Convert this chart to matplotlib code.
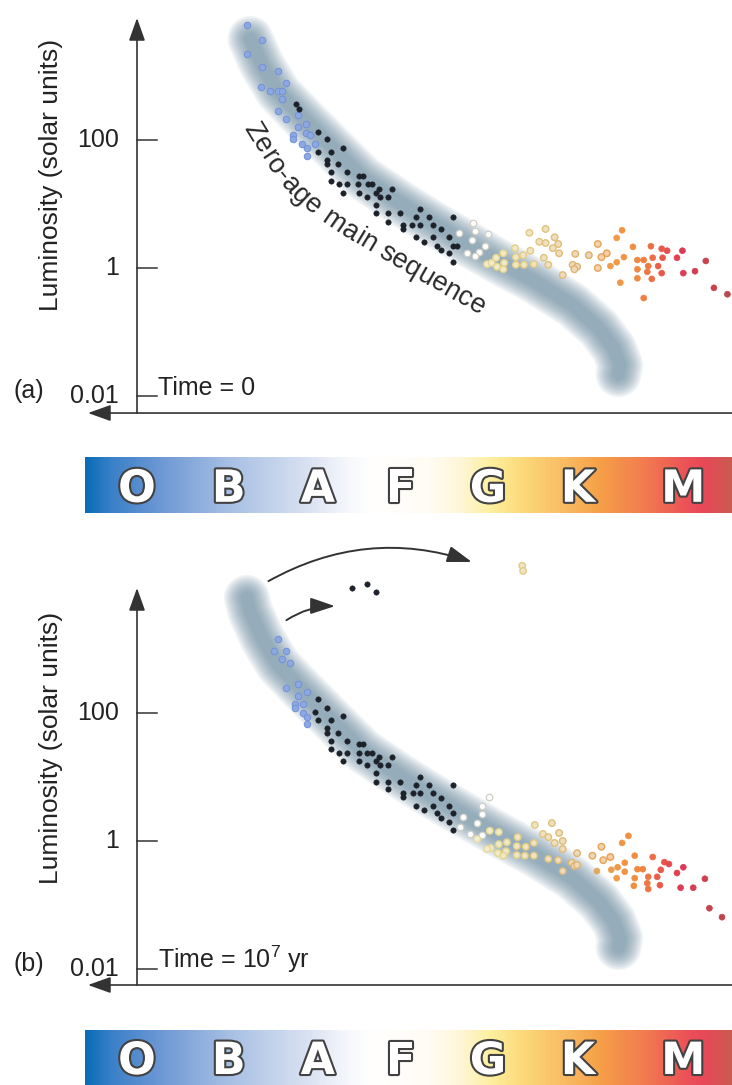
import numpy as np
import matplotlib
matplotlib.use("Agg")
import matplotlib.pyplot as plt
from matplotlib.colors import LinearSegmentedColormap
import matplotlib.patheffects as pe
from matplotlib.font_manager import FontProperties

plt.rcParams['font.family'] = ['Liberation Sans', 'DejaVu Sans']
plt.rcParams['mathtext.default'] = 'regular'

# ---------------------------------------------------------------- data
spectral_classes = ["O", "B", "A", "F", "G", "K", "M"]
class_positions = [0.0, 1.02, 2.01, 2.93, 3.90, 4.90, 6.07]
lum_ticks = [0.01, 1, 100]
lum_tick_labels = ["0.01", "1", "100"]

# zero-age main sequence band (spectral position, log10 L)
zams_s = [1.26, 1.39, 1.57, 1.78, 2.09, 2.51, 2.92, 3.26, 3.66, 4.03, 4.40, 4.84, 5.13, 5.30, 5.37, 5.35]
zams_logL = [3.58, 3.17, 2.75, 2.44, 2.00, 1.41, 1.02, 0.72, 0.39, 0.09, -0.19, -0.58, -0.94, -1.26, -1.52, -1.66]
zams_b_top_s = [1.22]
zams_b_top_logL = [3.80]

# ---- panel (a): time = 0
a_blue_s = [1.22, 1.39, 1.22, 1.39, 1.57, 1.66, 1.38, 1.48, 1.57, 1.61, 1.61, 1.57, 1.66, 1.79, 1.88, 1.79,
            1.88, 1.92, 1.73, 1.73, 1.98, 1.83, 1.89, 1.89]
a_blue_logL = [3.80, 3.56, 3.34, 3.14, 3.08, 2.89, 2.83, 2.77, 2.77, 2.77, 2.64, 2.45, 2.33, 2.39, 2.25, 2.20,
               2.11, 2.08, 2.08, 2.02, 1.94, 1.94, 1.88, 1.75]
a_black_s = [1.77, 1.80, 2.01, 2.11, 2.29, 2.01, 2.16, 2.11, 2.11, 2.23, 2.33, 2.16, 2.16, 2.24, 2.33, 2.47,
             2.51, 2.46, 2.57, 2.61, 2.69, 2.83, 2.29, 2.47, 2.56, 2.66, 2.70, 2.79, 2.66, 2.66, 2.79, 2.92,
             2.79, 3.14, 3.10, 3.24, 2.96, 2.96, 3.06, 3.14, 3.29, 3.38, 3.51, 3.10, 3.19, 3.29, 3.33, 3.38,
             3.47, 3.51, 3.56, 3.47, 3.51]
a_black_logL = [2.56, 2.48, 2.13, 2.02, 1.88, 1.81, 1.81, 1.69, 1.63, 1.63, 1.50, 1.50, 1.36, 1.31, 1.31, 1.44,
                1.44, 1.31, 1.31, 1.31, 1.23, 1.23, 1.17, 1.17, 1.11, 1.17, 1.11, 1.11, 0.98, 0.86, 0.86, 0.86,
                0.72, 0.92, 0.80, 0.80, 0.67, 0.61, 0.67, 0.67, 0.67, 0.61, 0.80, 0.48, 0.41, 0.48, 0.34, 0.28,
                0.48, 0.34, 0.34, 0.23, 0.09]
a_white_s = [3.73, 3.76, 3.58, 3.90, 3.72, 3.87, 3.80, 3.67, 3.76]
a_white_logL = [0.70, 0.58, 0.55, 0.53, 0.44, 0.34, 0.25, 0.23, 0.19]
a_ring_s = [4.36, 4.54, 4.64, 4.47, 4.54, 4.68, 4.20, 4.37, 4.62, 4.69, 4.07, 3.99, 4.08, 3.89, 3.94, 4.00,
            4.07, 4.21, 4.29, 4.21, 4.30, 4.41, 4.52, 4.57, 4.73,
            4.87, 5.02, 5.12, 5.16, 5.22, 4.84, 4.89, 4.86, 5.12]
a_ring_logL = [0.55, 0.61, 0.48, 0.41, 0.39, 0.375, 0.31, 0.27, 0.31, 0.23, 0.23, 0.16, 0.08, 0.06, 0.08, 0.02,
               -0.02, 0.17, 0.20, 0.05, 0.05, 0.06, 0.16, 0.05, -0.11,
               0.22, 0.20, 0.375, 0.17, 0.23, 0.05, 0.02, -0.02, 0.00]
a_fill_s = [5.39, 5.33, 5.51, 5.26, 5.33, 5.41, 5.56, 5.56, 5.56, 5.37, 5.63, 5.71, 5.63,
            5.83, 5.89, 6.06, 5.73, 5.84, 6.00, 5.68, 5.79, 5.67, 5.83, 5.72, 6.07, 6.20, 6.32, 6.41, 6.56]
a_fill_logL = [0.59, 0.47, 0.33, 0.03, 0.09, 0.17, 0.125, -0.02, -0.16, -0.23, 0.125, 0.34, -0.47,
               0.30, 0.27, 0.27, 0.16, 0.16, 0.16, 0.03, 0.03, -0.06, -0.08, -0.17, -0.08, -0.05, 0.11, -0.31, -0.41]

# ---- panel (b): time = 10^7 yr
b_blue_s = [1.57, 1.52, 1.66, 1.61, 1.70, 1.66, 1.79, 1.79, 1.89, 1.76, 1.76, 1.84, 1.84, 1.89, 1.89]
b_blue_logL = [3.16, 2.97, 2.97, 2.84, 2.78, 2.39, 2.45, 2.27, 2.33, 2.14, 2.08, 2.14, 2.00, 1.94, 1.83]
b_black_s = [2.01, 2.11, 1.98, 2.29, 2.01, 2.16, 2.11, 2.11, 2.23, 2.16, 2.33, 2.47, 2.51, 2.16, 2.24, 2.33,
             2.47, 2.56, 2.61, 2.69, 2.83, 2.29, 2.47, 2.56, 2.66, 2.70, 2.79, 2.66, 2.66, 2.79, 2.92, 2.79,
             3.14, 3.10, 3.24, 3.51, 2.96, 2.96, 3.07, 3.14, 3.29, 3.38, 3.10, 3.19, 3.29, 3.33, 3.38, 3.47,
             3.51, 3.47, 3.51]
b_black_logL = [2.22, 2.08, 2.02, 1.95, 1.89, 1.89, 1.77, 1.69, 1.69, 1.56, 1.56, 1.52, 1.52, 1.44, 1.375, 1.375,
                1.375, 1.375, 1.375, 1.31, 1.31, 1.25, 1.25, 1.19, 1.25, 1.19, 1.19, 1.06, 0.92, 0.92, 0.92, 0.81,
                1.00, 0.875, 0.875, 0.875, 0.75, 0.69, 0.75, 0.75, 0.75, 0.67, 0.55, 0.48, 0.55, 0.44, 0.36, 0.55,
                0.44, 0.30, 0.17]
b_giant_black_s = [2.39, 2.56, 2.66]
b_giant_black_logL = [3.95, 4.02, 3.89]
b_giant_ring_s = [4.28, 4.29]
b_giant_ring_logL = [4.30, 4.22]
b_white_s = [3.62, 3.59, 3.91, 3.83, 3.83, 3.78, 3.70, 3.83]
b_white_logL = [0.375, 0.22, 0.69, 0.55, 0.42, 0.28, 0.11, 0.09]
b_ring_s = [3.92, 4.02, 3.78, 4.02, 3.93, 3.89, 4.11, 4.10, 4.01, 4.07, 4.23, 4.22, 4.32, 4.22, 4.31, 4.41,
            4.42, 4.61, 4.51, 4.57, 4.69, 4.73, 4.64, 4.73, 4.41, 4.57, 4.68, 4.89, 4.83, 4.86, 4.89, 4.73,
            5.06, 5.16, 5.18, 5.26]
b_ring_logL = [0.16, 0.14, 0.03, -0.05, -0.11, -0.125, -0.02, -0.16, -0.19, -0.23, 0.06, -0.08, -0.09, -0.22, -0.23, -0.03,
               0.25, 0.28, 0.11, 0.06, 0.125, 0.00, -0.03, -0.125, -0.23, -0.28, -0.30, -0.19, -0.34, -0.39, -0.375, -0.47,
               -0.23, -0.09, -0.30, -0.25]
b_fill_s = [5.46, 5.39, 5.11, 5.27, 5.34, 5.42, 5.33, 5.42, 5.53, 5.56, 5.53, 5.52, 5.62, 5.73,
            5.68, 5.78, 5.82, 5.86, 5.91, 6.07, 6.00, 5.67, 5.81, 5.68, 6.04, 6.18, 6.31, 6.36, 6.50]
b_fill_logL = [0.08, -0.03, -0.47, -0.45, -0.41, -0.34, -0.58, -0.48, -0.23, -0.44, -0.58, -0.70, -0.44, -0.25,
               -0.56, -0.56, -0.45, -0.33, -0.36, -0.41, -0.50, -0.66, -0.69, -0.75, -0.73, -0.73, -0.59, -1.05, -1.19]

# ---------------------------------------------------------------- styles
W, H = 732, 1085
S_LEFT, S_RIGHT = -137 / 90, 595 / 90
BAR_LEFT = -52 / 90
X_ARROW_TIP = -49 / 90
INK = '#333333'
FS = 18

bar_cmap = LinearSegmentedColormap.from_list('spec', [
    (0.0, '#0a6cb8'), (0.039, '#3a80c8'), (0.116, '#6e98d4'), (0.224, '#a8c0e4'),
    (0.332, '#d4def0'), (0.402, '#f4f6fb'), (0.44, '#ffffff'), (0.533, '#fffcf4'),
    (0.58, '#fff6d8'), (0.626, '#fdf0a0'), (0.68, '#fcd878'), (0.75, '#f8b860'),
    (0.796, '#f6a048'), (0.866, '#f27c50'), (0.935, '#ec5058'), (0.958, '#e84858'),
    (1.0, '#cc5a50')])

warm_cmap = LinearSegmentedColormap.from_list('warm', [
    (0.0, '#e6e0b8'), (0.4 / 3.0, '#e4d690'), (0.9 / 3.0, '#e0c480'), (1.4 / 3.0, '#dcae6c'),
    (1.7 / 3.0, '#ee9c48'), (2.0 / 3.0, '#f08840'), (2.2 / 3.0, '#ea5c48'),
    (2.45 / 3.0, '#dc3a55'), (1.0, '#b84848')])


def warm(s):
    return warm_cmap(np.clip((np.asarray(s) - 3.6) / 3.0, 0, 1))


def lighten(cols, f):
    cols = np.asarray(cols)[:, :3]
    return np.column_stack([cols + (1 - cols) * f, np.ones(len(cols))])


fig = plt.figure(figsize=(W / 100, H / 100), dpi=100)
fig.patch.set_facecolor('white')


def px_axes(top, bottom):
    return fig.add_axes([0, 1 - bottom / H, 1, (bottom - top) / H])


def setup(ax, top_logL, bottom_logL):
    ax.set_yscale('log')
    ax.set_xlim(S_LEFT, S_RIGHT)
    ax.set_ylim(10 ** bottom_logL, 10 ** top_logL)
    ax.axis('off')


def draw_band(ax, s, logL):
    L = 10 ** np.asarray(logL)
    for w in np.linspace(46, 12, 12):
        ax.plot(s, L, color='#66879c', alpha=0.085, lw=w * 0.72,
                solid_capstyle='round', solid_joinstyle='round', zorder=1)


def draw_frame(ax, tip_logL, axis_logL, panel, time_label):
    kw = dict(arrowstyle='-|>,head_length=0.7,head_width=0.25', mutation_scale=20,
              color=INK, lw=1.2, shrinkA=0, shrinkB=0)
    ax.annotate('', xy=(0, 10 ** tip_logL), xytext=(0, 10 ** axis_logL), arrowprops=kw)
    ax.annotate('', xy=(X_ARROW_TIP, 10 ** axis_logL), xytext=(S_RIGHT, 10 ** axis_logL), arrowprops=kw)
    for t, lab in zip(lum_ticks, lum_tick_labels):
        ax.plot([0, 0.22], [t, t], color=INK, lw=1.1)
        ax.text(-0.2, t, lab, ha='right', va='center', fontsize=FS, color='#222222')
    ax.text(-0.956, 10 ** 1.45, 'Luminosity (solar units)', rotation=90, ha='center',
            va='center', fontsize=19, color='#222222')
    ax.text(-1.37, 10 ** -1.92, panel, ha='left', va='center', fontsize=FS, color='#222222')
    ax.text(0.235, 10 ** -1.985, time_label, ha='left', va='baseline', fontsize=FS, color='#222222')


def dots(ax, groups):
    for kind, s, logL in groups:
        s = np.asarray(s)
        L = 10 ** np.asarray(logL)
        if kind == 'blue':
            ax.scatter(s, L, s=22, facecolor='#8ca8e2', edgecolor='#7290d6', lw=0.7, zorder=3)
        elif kind == 'black':
            ax.scatter(s, L, s=15, facecolor='#1d222a', edgecolor='#1d222a', lw=0.4, zorder=3)
        elif kind == 'white':
            ax.scatter(s, L, s=22, facecolor='#ffffff', edgecolor='#cfcfc6', lw=0.9, zorder=3)
        elif kind == 'ring':
            c = warm(s)
            ax.scatter(s, L, s=22, facecolor=lighten(c, 0.5), edgecolor=c, lw=1.0, zorder=3)
        elif kind == 'fill':
            c = warm(s)
            ax.scatter(s, L, s=18, facecolor=c, edgecolor=c, lw=0.5, zorder=3)


def draw_bar(top, bottom):
    axb = px_axes(top, bottom)
    grad = np.linspace(0, 1, 800)[None, :]
    axb.imshow(grad, cmap=bar_cmap, extent=[BAR_LEFT, S_RIGHT, 0, 1], aspect='auto',
               interpolation='bilinear')
    axb.set_xlim(S_LEFT, S_RIGHT)
    axb.set_ylim(0, 1)
    axb.axis('off')
    for lab, pos in zip(spectral_classes, class_positions):
        axb.text(pos, 0.2, lab, ha='center', va='baseline', fontsize=32, fontweight='bold',
                 family='DejaVu Sans', color='white',
                 path_effects=[pe.withStroke(linewidth=3.0, foreground='#424242')])


def curved_text(ax, text, gs, glogL, fontsize, color):
    pts = ax.transData.transform(np.column_stack([gs, 10 ** np.asarray(glogL)]))
    d0 = pts[1] - pts[0]
    d0 /= np.hypot(*d0)
    d1 = pts[-1] - pts[-2]
    d1 /= np.hypot(*d1)
    pts = np.vstack([pts[0] - 80 * d0, pts, pts[-1] + 80 * d1])
    seg = np.diff(pts, axis=0)
    seglen = np.hypot(seg[:, 0], seg[:, 1])
    cum = np.concatenate([[0], np.cumsum(seglen)])
    ang = np.unwrap(np.arctan2(seg[:, 1], seg[:, 0]))
    mid = cum[:-1] + seglen / 2
    renderer = fig.canvas.get_renderer()
    prop = FontProperties(family='Liberation Sans', size=fontsize)
    wl = renderer.get_text_width_height_descent('l', prop, ismath=False)[0]

    def adv(sub):
        if not sub:
            return 0.0
        return renderer.get_text_width_height_descent(sub + 'l', prop, ismath=False)[0] - wl

    total = adv(text)
    core = cum[-2] - cum[1]
    start = cum[1] + (core - total) / 2
    cap = 0.72 * fontsize * fig.dpi / 72
    inv = ax.transData.inverted()
    for i, ch in enumerate(text):
        if ch == ' ':
            continue
        a = start + (adv(text[:i]) + adv(text[:i + 1])) / 2
        x = np.interp(a, cum, pts[:, 0])
        y = np.interp(a, cum, pts[:, 1])
        th = np.interp(a, mid, ang)
        bx, by = x + np.sin(th) * cap / 2, y - np.cos(th) * cap / 2
        dx, dy = inv.transform((bx, by))
        ax.text(dx, dy, ch, rotation=np.degrees(th), rotation_mode='anchor', ha='center',
                va='baseline', fontsize=fontsize, color=color, family='Liberation Sans', zorder=4)


# ---------------------------------------------------------------- panel (a)
ax_a = px_axes(0, 440)
setup(ax_a, 4.1875, -2.6875)
draw_band(ax_a, zams_s, zams_logL)
draw_frame(ax_a, 3.906, -2.266, '(a)', 'Time = 0')
dots(ax_a, [('blue', a_blue_s, a_blue_logL), ('black', a_black_s, a_black_logL),
            ('white', a_white_s, a_white_logL), ('ring', a_ring_s, a_ring_logL),
            ('fill', a_fill_s, a_fill_logL)])
curved_text(ax_a, 'Zero-age main sequence',
            [1.30, 1.55, 1.83, 2.22, 2.61, 3.15, 3.82],
            [2.21, 1.63, 1.16, 0.74, 0.41, -0.04, -0.57], 19.5, '#2a2a2a')

draw_bar(457, 513)

# ---------------------------------------------------------------- panel (b)
ax_b = px_axes(560, 1010)
setup(ax_b, 4.390625, -2.640625)
draw_band(ax_b, zams_b_top_s + zams_s, zams_b_top_logL + zams_logL)
draw_frame(ax_b, 3.953, -2.25, '(b)', r'Time = 10$^{7}$ yr')
dots(ax_b, [('blue', b_blue_s, b_blue_logL), ('black', b_black_s, b_black_logL),
            ('black', b_giant_black_s, b_giant_black_logL),
            ('white', b_white_s, b_white_logL), ('ring', b_ring_s, b_ring_logL),
            ('ring', b_giant_ring_s, b_giant_ring_logL), ('fill', b_fill_s, b_fill_logL)])
arrow_kw = dict(arrowstyle='-|>,head_length=0.75,head_width=0.25', mutation_scale=20,
                color=INK, lw=1.4, shrinkA=0, shrinkB=0)
ax_b.annotate('', xy=(3.72, 10 ** 4.36), xytext=(1.46, 10 ** 4.06),
              arrowprops=dict(connectionstyle='arc3,rad=-0.22', **arrow_kw))
ax_b.annotate('', xy=(2.20, 10 ** 3.67), xytext=(1.66, 10 ** 3.45),
              arrowprops=dict(connectionstyle='arc3,rad=-0.15', **arrow_kw))

draw_bar(1030, 1085)

fig.savefig('out.png', dpi=100)
